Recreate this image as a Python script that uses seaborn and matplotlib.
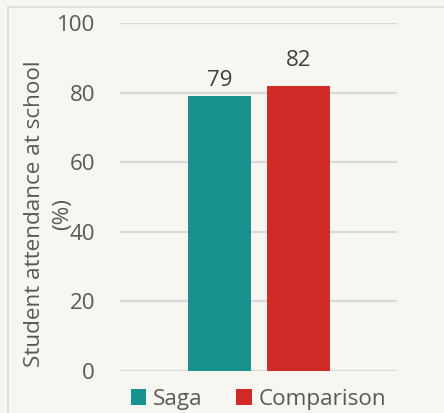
import matplotlib
matplotlib.use("Agg")
import matplotlib.pyplot as plt
import seaborn as sns
import pandas as pd
from matplotlib.lines import Line2D

# ---- data ----
series = ["Saga", "Comparison"]
values = [79, 82]
colors = ["#18928f", "#d12b27"]
y_ticks = [0, 20, 40, 60, 80, 100]
y_label = "Student attendance at school\n(%)"

df = pd.DataFrame({"series": series, "value": values})

sns.set_theme(style="white")
plt.rcParams["font.family"] = ["Open Sans", "DejaVu Sans"]

bg = "#f7f6f1"
fig = plt.figure(figsize=(4.44, 4.13), dpi=100, facecolor=bg)
ax = fig.add_axes([120 / 444, 1 - 371 / 413, 277 / 444, 348 / 413])
ax.set_facecolor(bg)

sns.barplot(data=df, x="series", y="value", hue="series", palette=colors,
            width=0.8, dodge=False, linewidth=0, saturation=1, ax=ax, legend=True)

ax.set_ylim(0, 100)
ax.set_xlim(-1.26, 2.247)
ax.set_yticks(y_ticks)
ax.set_yticklabels([str(t) for t in y_ticks])
ax.set_xticks([])
ax.set_xlabel("")
ax.grid(axis="y", color="#d9d9d9", linewidth=1.6)
ax.set_axisbelow(True)
for s in ax.spines.values():
    s.set_visible(False)
ax.tick_params(axis="y", length=0, pad=18, labelsize=16, labelcolor="#595959")

ax.set_ylabel(y_label, fontsize=16.2, color="#595959", linespacing=1.45,
              va="center", ha="center")
ax.yaxis.set_label_coords(-0.258, 0.451)

pads = [3.8, 10.5]
for cont, p in zip(ax.containers, pads):
    ax.bar_label(cont, padding=p, fontsize=16, color="#404040")

sns.move_legend(ax, loc="center", bbox_to_anchor=(0.5, -0.082), ncol=2,
                frameon=False, title=None, fontsize=16.2, handlelength=0.68,
                handleheight=0.68, handletextpad=0.32, columnspacing=1.5,
                labelcolor="#595959")

# partial frame around the figure
fig.add_artist(Line2D([8 / 444, 8 / 444], [0, 1 - 7 / 413], color="#dcdcdc",
                      linewidth=1.2, transform=fig.transFigure))
fig.add_artist(Line2D([8 / 444, 1], [1 - 7 / 413, 1 - 7 / 413], color="#dcdcdc",
                      linewidth=1.2, transform=fig.transFigure))

fig.savefig("out.png", dpi=100, facecolor=bg)
